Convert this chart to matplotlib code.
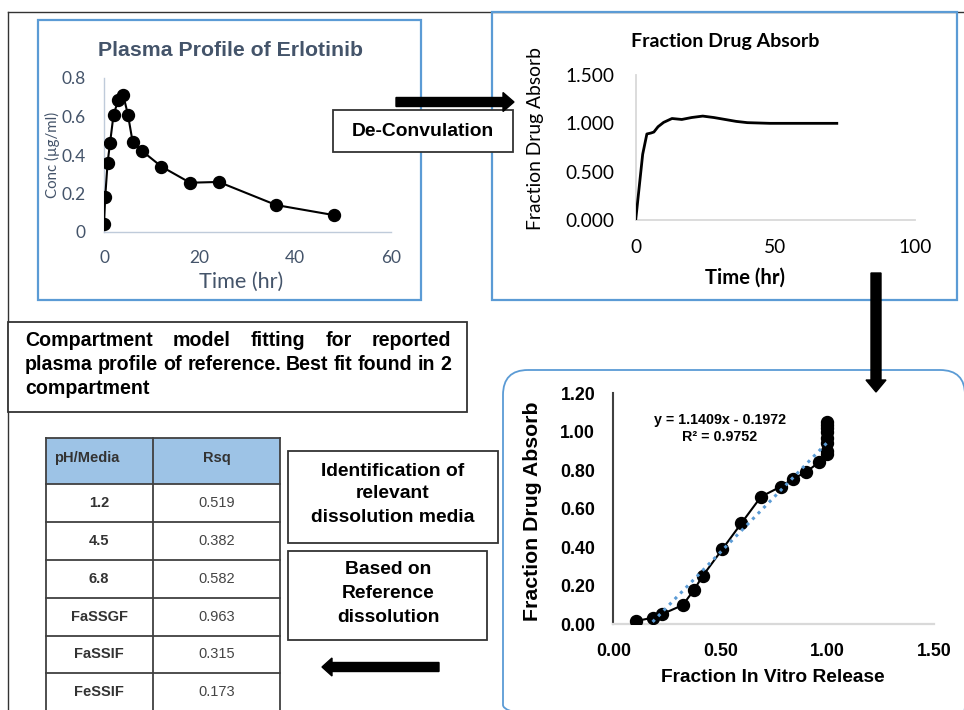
import numpy as np
import matplotlib.pyplot as plt
from matplotlib.patches import Rectangle, FancyBboxPatch, FancyArrow

W, H = 964, 710

# plasma concentration profile (hr, ug/ml)
plasma_time = [0, 0.25, 0.75, 1.25, 2, 3, 4, 5, 6, 8, 12, 18, 24, 36, 48]
plasma_conc = [0.04, 0.18, 0.36, 0.46, 0.61, 0.686, 0.713, 0.61, 0.466, 0.42, 0.34, 0.256, 0.26, 0.14, 0.088]

# deconvoluted fraction absorbed
fa_time = [0, 2.5, 4, 5.5, 6.5, 8, 10, 13, 16.5, 20, 24, 28, 32, 36, 40, 48, 60, 72]
fa_value = [0, 0.68, 0.89, 0.90, 0.91, 0.965, 1.01, 1.05, 1.04, 1.06, 1.075, 1.06, 1.04, 1.02, 1.007, 1.0, 1.0, 1.0]

# level A correlation
ivr_release = [0.106, 0.184, 0.229, 0.325, 0.377, 0.418, 0.51, 0.599, 0.691, 0.783, 0.839, 0.901,
               0.962, 1.0, 1.0, 1.0, 1.0, 1.0, 1.0, 1.0, 1.0]
ivr_absorb = [0.017, 0.034, 0.053, 0.10, 0.178, 0.251, 0.39, 0.525, 0.663, 0.715, 0.755, 0.79,
              0.842, 0.883, 0.90, 0.94, 0.97, 1.0, 1.02, 1.035, 1.049]
fit_slope, fit_intercept, fit_r2 = 1.1409, -0.1972, 0.9752

# media screening table
media = ['1.2', '4.5', '6.8', 'FaSSGF', 'FaSSIF', 'FeSSIF']
rsq = [0.519, 0.382, 0.582, 0.963, 0.315, 0.173]

ARIAL = 'Liberation Sans'
CALIBRI = 'Lato'
BLUE = '#5B9BD5'
SLATE = '#44546A'

fig = plt.figure(figsize=(W / 100, H / 100), dpi=100)

bg = fig.add_axes([0, 0, 1, 1])
bg.set_xlim(0, W)
bg.set_ylim(H, 0)
bg.axis('off')


def axes_px(left, top, right, bottom):
    return fig.add_axes([left / W, 1 - bottom / H, (right - left) / W, (bottom - top) / H])


def box(x0, y0, x1, y1, ec='#333333', lw=1.3, z=2, fc='white'):
    bg.add_patch(Rectangle((x0, y0), x1 - x0, y1 - y0, fc=fc, ec=ec, lw=lw, zorder=z))


# outer frame and panel borders
bg.plot([8, W], [12, 12], color='#333333', lw=1, zorder=1)
bg.plot([8, 8], [12, H], color='#333333', lw=1, zorder=1)
box(38, 20, 421, 300, ec=BLUE, lw=1.6, z=1, fc='none')
box(492, 12, 957, 300, ec=BLUE, lw=1.6, z=1, fc='none')
bg.add_patch(FancyBboxPatch((503, 370), 462, 360, boxstyle='round,pad=0,rounding_size=25',
                            fc='none', ec=BLUE, lw=1.3, zorder=1))

# De-Convulation box + arrows
box(333, 110, 513, 152, z=3)
bg.text(423, 131, 'De-Convulation', family=ARIAL, weight='bold', fontsize=13.9,
        ha='center', va='center', zorder=4)
bg.add_patch(FancyArrow(396, 102, 118, 0, width=9, head_width=19, head_length=11,
                        length_includes_head=True, color='black', zorder=5))
bg.add_patch(FancyArrow(876, 273, 0, 119, width=10, head_width=20, head_length=12,
                        length_includes_head=True, color='black', zorder=5))
bg.add_patch(FancyArrow(439, 667, -117, 0, width=9, head_width=18, head_length=10,
                        length_includes_head=True, color='black', zorder=5))

# compartment text box, justified
box(8, 322, 467, 412)
lines = [('Compartment model fitting for reported', True),
         ('plasma profile of reference. Best fit found in 2', True),
         ('compartment', False)]
renderer = fig.canvas.get_renderer()
probe = bg.text(0, 0, lines[1][0], family=ARIAL, weight='bold', fontsize=12)
fs = 12 * 426 / probe.get_window_extent(renderer).width
probe.remove()
for (line, justify), y in zip(lines, [341, 364, 388]):
    words = line.split()
    texts = [bg.text(0, y, w, family=ARIAL, weight='bold', fontsize=fs, va='center', ha='left')
             for w in words]
    widths = [t.get_window_extent(renderer).width for t in texts]
    if justify and len(words) > 1:
        gap = (451 - 25 - sum(widths)) / (len(words) - 1)
    else:
        gap = renderer.points_to_pixels(fs) * 0.28
    x = 25
    for t, w in zip(texts, widths):
        t.set_x(x)
        x += w + gap

# table
cols = [46, 153, 280]
rows = [438, 484, 522, 560, 598, 636, 673, 712]
bg.add_patch(Rectangle((cols[0], rows[0]), cols[2] - cols[0], rows[1] - rows[0],
                       fc='#9DC3E6', ec='none', zorder=2))
for yy in rows:
    bg.plot([cols[0], cols[2]], [yy, yy], color='#404040', lw=1.3, zorder=3)
for xx in cols:
    bg.plot([xx, xx], [rows[0], rows[-1]], color='#404040', lw=1.3, zorder=3)
bg.text(54, 458, 'pH/Media', family=ARIAL, weight='bold', fontsize=10.5, color='#333333',
        ha='left', va='center', zorder=4)
bg.text(217, 458, 'Rsq', family=ARIAL, weight='bold', fontsize=10.5, color='#333333',
        ha='center', va='center', zorder=4)
for i, (m, r) in enumerate(zip(media, rsq)):
    yc = (rows[i + 1] + rows[i + 2]) / 2
    bg.text(99, yc, m, family=ARIAL, weight='bold', fontsize=10.5, color='#333333',
            ha='center', va='center', zorder=4)
    bg.text(217, yc, f'{r:.3f}', family=ARIAL, fontsize=10.5, color='#444444',
            ha='center', va='center', zorder=4)

# side notes
box(288, 451, 498, 543)
for s, y in zip(['Identification of', 'relevant', 'dissolution media'], [471, 494, 518]):
    bg.text(393, y, s, family=ARIAL, weight='bold', fontsize=13.9, ha='center', va='center', zorder=4)
box(288, 551, 487, 640)
for s, y in zip(['Based on', 'Reference', 'dissolution'], [570, 594, 617]):
    bg.text(388, y, s, family=ARIAL, weight='bold', fontsize=13.9, ha='center', va='center', zorder=4)


def clean_axes(ax, left_color, bottom_color, lw_left=1.0, lw_bottom=1.0):
    ax.patch.set_alpha(0)
    for side in ['top', 'right']:
        ax.spines[side].set_visible(False)
    ax.spines['left'].set_color(left_color)
    ax.spines['left'].set_linewidth(lw_left)
    ax.spines['bottom'].set_color(bottom_color)
    ax.spines['bottom'].set_linewidth(lw_bottom)
    ax.tick_params(length=0)


# plasma profile chart
ax1 = axes_px(104, 78, 391, 232)
ax1.plot(plasma_time, plasma_conc, color='black', lw=1.5, marker='o', ms=8.6, zorder=3)
ax1.set_xlim(0, 60)
ax1.set_ylim(0, 0.8)
ax1.set_xticks([0, 20, 40, 60])
ax1.set_yticks([0, 0.2, 0.4, 0.6, 0.8])
ax1.set_yticklabels(['0', '0.2', '0.4', '0.6', '0.8'])
clean_axes(ax1, '#BFCBDA', '#BFCBDA')
ax1.tick_params(axis='y', pad=13, labelcolor=SLATE, labelsize=12.5)
ax1.tick_params(axis='x', pad=13, labelcolor=SLATE, labelsize=12.5)
for lab in ax1.get_xticklabels() + ax1.get_yticklabels():
    lab.set_family(CALIBRI)
bg.text(230, 50, 'Plasma Profile of Erlotinib', family=ARIAL, weight='bold', fontsize=15.3,
        color=SLATE, ha='center', va='center')
bg.text(241, 282, 'Time (hr)', family=CALIBRI, fontsize=15.6, color=SLATE, ha='center', va='center')
bg.text(52, 155, 'Conc (µg/ml)', family=CALIBRI, fontsize=10.8, color=SLATE, ha='center',
        va='center', rotation=90)

# fraction absorbed chart
ax2 = axes_px(635.7, 75, 915, 220)
ax2.plot(fa_time, fa_value, color='black', lw=2, solid_joinstyle='round', zorder=3)
ax2.set_xlim(0, 100)
ax2.set_ylim(0, 1.5)
ax2.set_xticks([0, 50, 100])
ax2.set_yticks([0, 0.5, 1.0, 1.5])
ax2.set_yticklabels(['0.000', '0.500', '1.000', '1.500'])
clean_axes(ax2, '#D9D9D9', '#D9D9D9', 1.3, 1.3)
ax2.tick_params(axis='y', pad=15, labelsize=13.8)
ax2.tick_params(axis='x', pad=14, labelsize=13.8)
for lab in ax2.get_xticklabels() + ax2.get_yticklabels():
    lab.set_family(CALIBRI)
bg.text(725, 42, 'Fraction Drug Absorb', family=CALIBRI, weight='bold', fontsize=14,
        ha='center', va='center')
bg.text(745, 278, 'Time (hr)', family=CALIBRI, weight='bold', fontsize=14.6, ha='center', va='center')
bg.text(535, 139, 'Fraction Drug Absorb', family=CALIBRI, fontsize=13.9, ha='center',
        va='center', rotation=90)

# in vitro / in vivo correlation
ax3 = axes_px(613.3, 393.3, 934, 624.3)
ax3.plot(ivr_release, ivr_absorb, color='black', lw=1.5, marker='o', ms=8.6, zorder=3)
fit_x = np.array([min(ivr_release), max(ivr_release)])
ax3.plot(fit_x, fit_slope * fit_x + fit_intercept, color=BLUE, lw=2.2, ls=(0, (1, 1.6)), zorder=4)
ax3.set_xlim(0, 1.5)
ax3.set_ylim(0, 1.2)
ax3.set_xticks([0, 0.5, 1.0, 1.5])
ax3.set_yticks(np.arange(0, 1.21, 0.2))
ax3.set_xticklabels(['0.00', '0.50', '1.00', '1.50'])
ax3.set_yticklabels([f'{v:.2f}' for v in np.arange(0, 1.21, 0.2)])
clean_axes(ax3, '#404040', '#D9D9D9', 1.5, 1.6)
ax3.tick_params(axis='y', pad=13, labelsize=12.8)
ax3.tick_params(axis='x', pad=13.5, labelsize=12.8)
for lab in ax3.get_xticklabels() + ax3.get_yticklabels():
    lab.set_family(ARIAL)
    lab.set_weight('bold')
ax3.text(0.333, 0.884, f'y = {fit_slope}x - {abs(fit_intercept)}', transform=ax3.transAxes,
         family=ARIAL, weight='bold', fontsize=10.3, ha='center', va='center', zorder=6)
ax3.text(0.333, 0.811, f'R² = {fit_r2}', transform=ax3.transAxes,
         family=ARIAL, weight='bold', fontsize=10.3, ha='center', va='center', zorder=6)
bg.text(773, 678, 'Fraction In Vitro Release', family=ARIAL, weight='bold', fontsize=13.8,
        ha='center', va='center')
bg.text(533, 511, 'Fraction Drug Absorb', family=ARIAL, weight='bold', fontsize=15.3,
        ha='center', va='center', rotation=90)

fig.savefig('out.png', dpi=100)
